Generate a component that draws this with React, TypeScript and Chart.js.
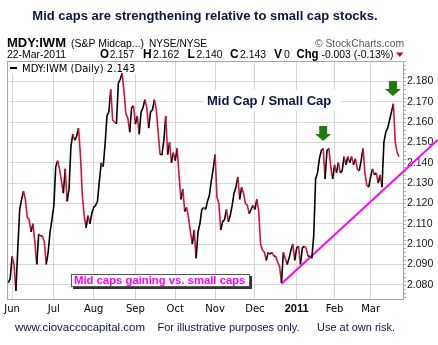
import React, { useEffect, useRef } from 'react';
import { Chart, registerables } from 'chart.js';

Chart.register(...registerables);

// MDY:IWM daily ratio, 27-May-2010 .. 22-Mar-2011 (trading days)
const ratioValues: number[] = [
  2.081, 2.083, 2.094, 2.090, 2.077, 2.098, 2.117, 2.122, 2.126, 2.122,
  2.113, 2.112, 2.106, 2.110, 2.101, 2.090, 2.105, 2.104, 2.104, 2.101,
  2.090, 2.096, 2.106, 2.112, 2.119, 2.138, 2.141, 2.137, 2.131, 2.125,
  2.137, 2.121, 2.127, 2.148, 2.154, 2.151, 2.153, 2.157, 2.144, 2.124,
  2.114, 2.108, 2.114, 2.110, 2.115, 2.118, 2.119, 2.121, 2.131, 2.140,
  2.138, 2.149, 2.163, 2.165, 2.176, 2.161, 2.160, 2.159, 2.179, 2.181,
  2.184, 2.175, 2.164, 2.162, 2.155, 2.167, 2.168, 2.159, 2.163, 2.154,
  2.165, 2.167, 2.171, 2.167, 2.157, 2.165, 2.166, 2.171, 2.166, 2.155,
  2.144, 2.144, 2.151, 2.163, 2.144, 2.150, 2.140, 2.145, 2.141, 2.147,
  2.134, 2.122, 2.127, 2.116, 2.118, 2.113, 2.106, 2.100, 2.107, 2.093,
  2.106, 2.110, 2.117, 2.118, 2.117, 2.121, 2.124, 2.131, 2.137, 2.144,
  2.123, 2.120, 2.107, 2.111, 2.112, 2.117, 2.111, 2.114, 2.119, 2.125,
  2.128, 2.133, 2.122, 2.128, 2.125, 2.120, 2.119, 2.115, 2.117, 2.119,
  2.117, 2.122, 2.116, 2.100, 2.097, 2.096, 2.092, 2.096, 2.095, 2.096,
  2.094, 2.094, 2.091, 2.089, 2.081, 2.096, 2.093, 2.090, 2.093, 2.097,
  2.100, 2.092, 2.098, 2.099, 2.090, 2.098, 2.099, 2.098, 2.094, 2.094,
  2.093, 2.104, 2.132, 2.135, 2.142, 2.146, 2.147, 2.132, 2.146, 2.147,
  2.138, 2.132, 2.139, 2.135, 2.140, 2.135, 2.136, 2.143, 2.139, 2.143,
  2.140, 2.143, 2.139, 2.142, 2.137, 2.136, 2.141, 2.147, 2.135, 2.129,
  2.128, 2.133, 2.137, 2.134, 2.135, 2.130, 2.134, 2.128, 2.150, 2.155,
  2.157, 2.161, 2.165, 2.169, 2.150, 2.145, 2.143,
];

const monthLabels: string[] = ['Jun', 'Jul', 'Aug', 'Sep', 'Oct', 'Nov', 'Dec', '2011', 'Feb', 'Mar'];
const monthStartIdx: number[] = [2, 24, 45, 67, 88, 109, 130, 152, 172, 191];
const yTickValues: number[] = [2.08, 2.09, 2.10, 2.11, 2.12, 2.13, 2.14, 2.15, 2.16, 2.17, 2.18];

const trendIdx: number[] = [144, 226.5];
const trendValues: number[] = [2.0805, 2.1513];

const arrowIdx: number[] = [166, 202.8];
const arrowTipValues: number[] = [2.1507, 2.1728];

const SANS = '"Liberation Sans", Arial, sans-serif';
const VERD = '"DejaVu Sans", Verdana, sans-serif';
const NAVY = '#0c1640';

const overlayPlugin = {
  id: 'overlay',
  beforeDatasetsDraw(chart: any) {
    const { ctx, chartArea: a } = chart;
    ctx.save();
    // frame
    ctx.strokeStyle = '#a8a8a8';
    ctx.lineWidth = 1;
    ctx.strokeRect(a.left + 0.5, a.top + 0.5, a.right - a.left - 1, a.bottom - a.top);
    // minor ticks on right
    const ys = chart.scales.y;
    ctx.strokeStyle = '#b0b0b0';
    for (let v = 2.074; v < 2.19; v += 0.002) {
      const py = Math.round(ys.getPixelForValue(v)) + 0.5;
      ctx.beginPath();
      ctx.moveTo(a.right, py);
      ctx.lineTo(a.right + 2, py);
      ctx.stroke();
    }
    // legend box
    ctx.fillStyle = '#fff';
    ctx.fillRect(a.left + 1, a.top + 1, 148, 12);
    ctx.fillStyle = '#000';
    ctx.fillRect(10, 67, 7, 2);
    ctx.font = `10px ${VERD}`;
    ctx.textBaseline = 'alphabetic';
    ctx.textAlign = 'left';
    ctx.fillText('MDY:IWM (Daily) 2.143', 22, 72);
    // Mid Cap / Small Cap label
    ctx.fillStyle = '#fff';
    ctx.fillRect(204, 90, 137, 21);
    ctx.fillStyle = NAVY;
    ctx.font = `bold 13px ${SANS}`;
    ctx.fillText('Mid Cap / Small Cap', 207, 105, 131);
    // pink note box
    ctx.fillStyle = '#333';
    ctx.fillRect(73, 276, 179, 13);
    ctx.fillStyle = '#fff';
    ctx.fillRect(71, 274, 179, 13);
    ctx.strokeStyle = '#555';
    ctx.strokeRect(71.5, 274.5, 178, 12);
    ctx.fillStyle = '#ff00ff';
    ctx.font = `bold 11.3px ${SANS}`;
    ctx.fillText('Mid caps gaining vs. small caps', 74, 283.5, 172);
    ctx.restore();
  },
  afterDraw(chart: any) {
    const { ctx } = chart;
    const xs = chart.scales.x;
    const ys = chart.scales.y;
    ctx.save();
    ctx.textBaseline = 'alphabetic';
    // title
    ctx.fillStyle = NAVY;
    ctx.font = `bold 13px ${SANS}`;
    ctx.textAlign = 'center';
    ctx.fillText('Mid caps are strengthening relative to small cap stocks.', 205, 20, 352);
    // header
    ctx.textAlign = 'left';
    ctx.fillStyle = '#000';
    ctx.font = `bold 13px ${SANS}`;
    ctx.fillText('MDY:IWM', 7, 47, 62);
    ctx.font = `10.5px ${SANS}`;
    ctx.fillText('(S&P Midcap...)', 71, 47, 73);
    ctx.fillText('NYSE/NYSE', 149, 47, 58);
    ctx.fillStyle = '#555';
    ctx.textAlign = 'right';
    ctx.fillText('\u00A9 StockCharts.com', 404, 47, 89);
    ctx.textAlign = 'left';
    ctx.fillStyle = '#000';
    const line2: [string, number, boolean, number][] = [
      ['22-Mar-2011', 7, false, 59],
      ['O', 100, true, 9],
      ['2.157', 110, false, 24],
      ['H', 143, true, 9],
      ['2.162', 153, false, 27],
      ['L', 187.5, true, 8],
      ['2.140', 196.5, false, 26],
      ['C', 230, true, 9],
      ['2.143', 240, false, 26],
      ['V', 274, true, 9],
      ['0', 284, false, 6],
      ['Chg', 296.5, true, 22],
      ['-0.003 (-0.13%)', 321.5, false, 72],
    ];
    for (const [t, x, b, w] of line2) {
      ctx.font = `${b ? 'bold 12px' : '10.5px'} ${SANS}`;
      ctx.fillText(t, x, 58, w);
    }
    ctx.fillStyle = '#b0102e';
    ctx.beginPath();
    ctx.moveTo(396, 52.5);
    ctx.lineTo(403.5, 52.5);
    ctx.lineTo(399.75, 57);
    ctx.closePath();
    ctx.fill();
    // x labels
    ctx.fillStyle = '#000';
    ctx.textAlign = 'center';
    monthLabels.forEach((lab, i) => {
      const px = xs.getPixelForValue(monthStartIdx[i]);
      ctx.font = lab === '2011' ? `bold 11px ${SANS}` : `10px ${VERD}`;
      ctx.fillText(lab, px, 311.5);
    });
    // arrows
    ctx.fillStyle = '#237a12';
    arrowIdx.forEach((ix, i) => {
      const cx = xs.getPixelForValue(ix);
      const ty = ys.getPixelForValue(arrowTipValues[i]);
      ctx.beginPath();
      ctx.moveTo(cx - 4, ty - 15);
      ctx.lineTo(cx + 4, ty - 15);
      ctx.lineTo(cx + 4, ty - 7);
      ctx.lineTo(cx + 8, ty - 7);
      ctx.lineTo(cx, ty);
      ctx.lineTo(cx - 8, ty - 7);
      ctx.lineTo(cx - 4, ty - 7);
      ctx.closePath();
      ctx.fill();
    });
    // footer
    ctx.textAlign = 'left';
    ctx.fillStyle = NAVY;
    ctx.font = `11.5px ${SANS}`;
    ctx.fillText('www.ciovaccocapital.com', 15, 331, 130);
    ctx.fillText('For illustrative purposes only.', 157.5, 331, 142);
    ctx.fillText('Use at own risk.', 317, 331, 78);
    ctx.restore();
  },
};

export default function App() {
  const ref = useRef<HTMLCanvasElement | null>(null);
  useEffect(() => {
    document.body.style.margin = '0';
    const canvas = ref.current;
    if (!canvas) return;
    const chart = new Chart(canvas, {
      type: 'line',
      data: {
        datasets: [
          {
            label: 'MDY:IWM',
            data: ratioValues.map((v, i) => ({ x: i, y: v })),
            borderWidth: 1.6,
            pointRadius: 0,
            tension: 0,
            borderColor: '#000',
            segment: {
              borderColor: (c: any) => (c.p1.parsed.y >= c.p0.parsed.y ? '#000' : '#d4133c'),
            },
          },
          {
            label: 'trend',
            data: trendIdx.map((x, i) => ({ x, y: trendValues[i] })),
            borderColor: '#ff00ff',
            borderWidth: 2,
            pointRadius: 0,
            clip: false as any,
          },
        ],
      },
      options: {
        animation: false,
        responsive: false,
        devicePixelRatio: 1,
        layout: { padding: { left: 7, top: 61, right: 0, bottom: 0 } },
        plugins: { legend: { display: false }, tooltip: { enabled: false }, title: { display: false } },
        scales: {
          x: {
            type: 'linear',
            min: -0.7,
            max: 208.6,
            border: { display: false },
            grid: { color: '#d6d6d6', lineWidth: 1, drawTicks: false },
            ticks: { display: false },
            afterBuildTicks: (s: any) => {
              s.ticks = monthStartIdx.map((v) => ({ value: v }));
            },
            afterFit: (s: any) => {
              s.height = 46;
            },
          },
          y: {
            type: 'linear',
            position: 'right',
            min: 2.073,
            max: 2.19,
            border: { display: false },
            grid: { color: '#d6d6d6', lineWidth: 1, drawTicks: false },
            ticks: {
              padding: 3,
              color: '#111',
              font: { family: '"Liberation Sans", Arial, sans-serif', size: 10.5 },
              callback: (v: any) => Number(v).toFixed(3),
            },
            afterBuildTicks: (s: any) => {
              s.ticks = yTickValues.map((v) => ({ value: v }));
            },
            afterFit: (s: any) => {
              s.width = 34;
            },
          },
        },
      },
      plugins: [overlayPlugin],
    });
    return () => chart.destroy();
  }, []);
  return (
    <div style={{ width: 438, height: 345, position: 'relative', background: '#fff' }}>
      <canvas ref={ref} width={438} height={345} style={{ display: 'block' }} />
    </div>
  );
}
